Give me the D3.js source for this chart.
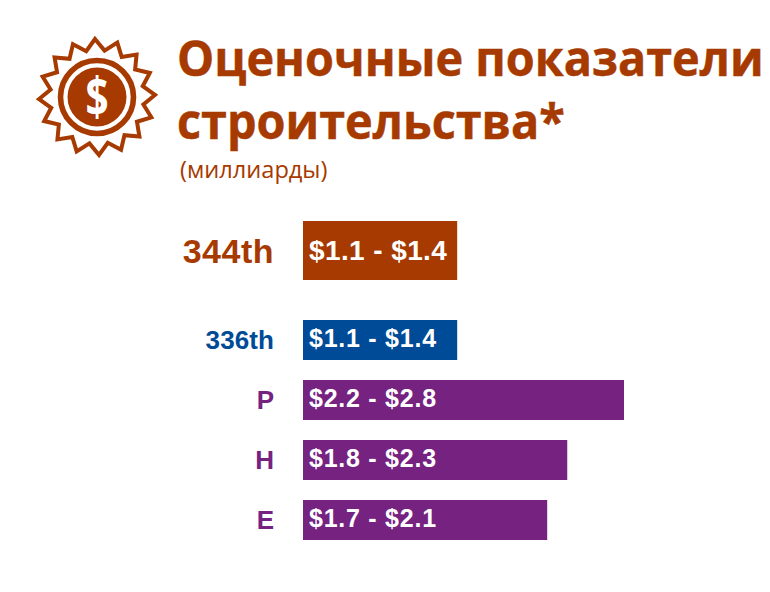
<!DOCTYPE html>
<html>
<head>
<meta charset="utf-8">
<script src="https://cdn.jsdelivr.net/npm/d3@7"></script>
<style>
    html, body { margin: 0; padding: 0; background: #fff; }
    svg { display: block; }
</style>
</head>
<body>
<div id="chart"></div>
<script>
// data
var categories = ["344th", "336th", "P", "H", "E"];
var rangeLabels = ["$1.1 - $1.4", "$1.1 - $1.4", "$2.2 - $2.8", "$1.8 - $2.3", "$1.7 - $2.1"];
var barValues = [1.345, 1.345, 2.8, 2.305, 2.13];
var titleLines = ["Оценочные показатели", "строительства*"];
var subtitle = "(миллиарды)";

var rust = "#a63a00", blue = "#004b97", purple = "#762281";
var barColors = [rust, blue, purple, purple, purple];
var rowTops = [221, 320, 380, 440, 500];
var rowHeights = [59, 40, 40, 40, 40];
var labelSizes = [34, 26, 26, 26, 26];
var labelSpacing = [0.5, 0.1, 0, 0, 0];
var labelBaselines = [263, 348.5, 408.5, 468.5, 528.5];
var valueSizes = [28, 25, 25, 25, 25];
var valueSpacing = [0.4, 0.75, 0.75, 0.75, 0.75];
var valueBaselines = [259.5, 347, 407, 467, 527];

var width = 770, height = 592;
var sans = "'Liberation Sans', Arial, sans-serif";

var svg = d3.select("#chart").append("svg")
    .attr("width", width)
    .attr("height", height);

var x = d3.scaleLinear().domain([0, 2.8]).range([303, 624]);

/////////////////////////// ICON ///////////////////////////
var icon = svg.append("g").attr("transform", "translate(97,97)");

var tips = 16;
var starPoints = d3.range(tips * 2).map(function(i) {
    return [i * Math.PI / tips - 0.035, i % 2 === 0 ? 58 : 47];
});
icon.append("path")
    .attr("d", d3.lineRadial().curve(d3.curveLinearClosed)(starPoints))
    .attr("fill", "none")
    .attr("stroke", rust)
    .attr("stroke-width", 4);

icon.append("circle").attr("r", 36.5).attr("fill", "none").attr("stroke", rust).attr("stroke-width", 5.6);
icon.append("circle").attr("r", 29.5).attr("fill", rust);
icon.append("text")
    .attr("transform", "translate(0,19) scale(0.75,1)")
    .attr("text-anchor", "middle")
    .attr("font-family", "'Open Sans', sans-serif")
    .attr("font-weight", 700)
    .attr("font-size", 54)
    .attr("fill", "#fff")
    .text("$");

/////////////////////////// TITLE ///////////////////////////
// squeezed a little sideways, the original face is taller for its width
svg.selectAll("text.title")
    .data(titleLines)
    .enter().append("text")
    .attr("class", "title")
    .attr("transform", function(d, i) { return "translate(177," + (76 + i * 63) + ") scale(0.955,1)"; })
    .attr("font-family", "'Open Sans', sans-serif")
    .attr("font-weight", 700)
    .attr("font-size", 49)
    .attr("fill", rust)
    .attr("stroke", rust)
    .attr("stroke-width", 0.5)
    .text(function(d) { return d; });

svg.append("text")
    .attr("x", 180)
    .attr("y", 178)
    .attr("font-family", "'Open Sans', sans-serif")
    .attr("font-size", 23.6)
    .attr("fill", rust)
    .text(subtitle);

/////////////////////////// BARS ///////////////////////////
svg.selectAll("rect.bar")
    .data(barValues)
    .enter().append("rect")
    .attr("class", "bar")
    .attr("x", x(0))
    .attr("y", function(d, i) { return rowTops[i]; })
    .attr("width", function(d) { return x(d) - x(0); })
    .attr("height", function(d, i) { return rowHeights[i]; })
    .attr("fill", function(d, i) { return barColors[i]; });

svg.selectAll("text.category")
    .data(categories)
    .enter().append("text")
    .attr("class", "category")
    .attr("x", 274)
    .attr("y", function(d, i) { return labelBaselines[i]; })
    .attr("text-anchor", "end")
    .attr("font-family", sans)
    .attr("font-weight", 700)
    .attr("font-size", function(d, i) { return labelSizes[i]; })
    .attr("letter-spacing", function(d, i) { return labelSpacing[i]; })
    .attr("fill", function(d, i) { return barColors[i]; })
    .text(function(d) { return d; });

svg.selectAll("text.range")
    .data(rangeLabels)
    .enter().append("text")
    .attr("class", "range")
    .attr("x", 309)
    .attr("y", function(d, i) { return valueBaselines[i]; })
    .attr("font-family", sans)
    .attr("font-weight", 700)
    .attr("font-size", function(d, i) { return valueSizes[i]; })
    .attr("letter-spacing", function(d, i) { return valueSpacing[i]; })
    .attr("fill", "#fff")
    .text(function(d) { return d; });
</script>
</body>
</html>
